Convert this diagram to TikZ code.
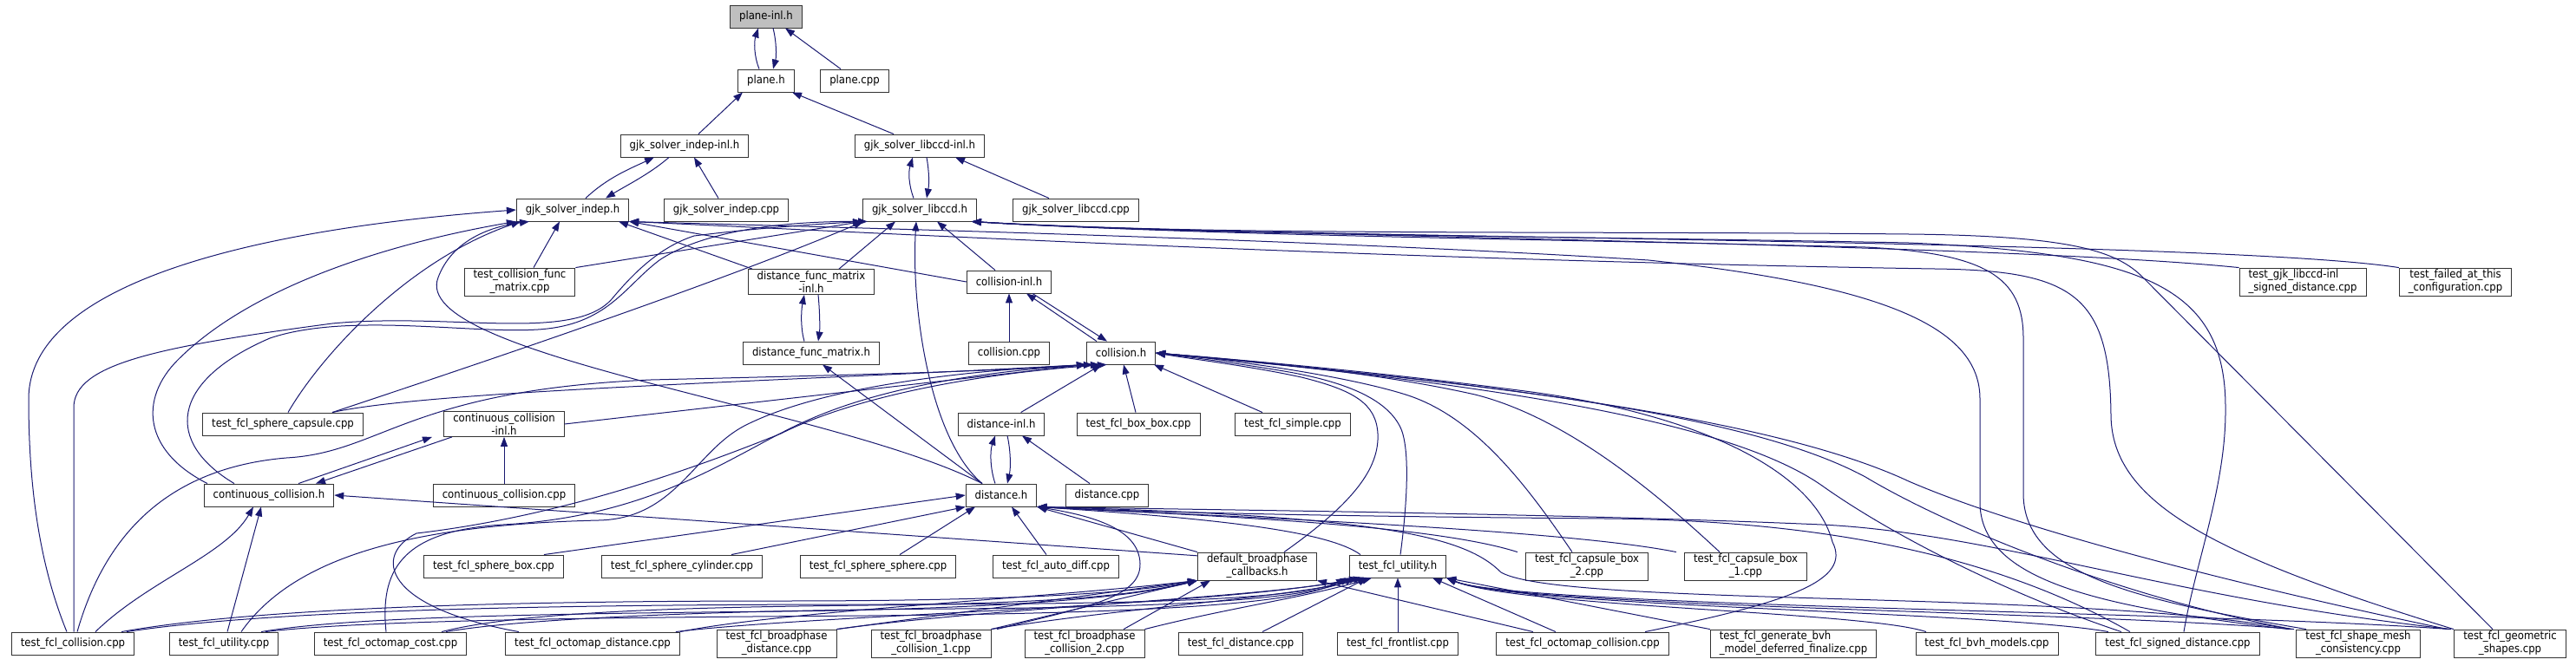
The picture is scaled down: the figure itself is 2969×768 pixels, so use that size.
\documentclass[tikz,border=0pt]{standalone}
\usepackage{fontspec}
\newfontfamily\dvcond{DejaVu Sans Condensed}
\usetikzlibrary{arrows.meta}
\definecolor{edgeblue}{RGB}{25,25,112}
\tikzset{
  file/.style={draw=black!80, fill=white, line width=0.9pt, inner xsep=10.5pt, inner ysep=2pt,
    minimum height=26pt, align=center, font=\dvcond\fontsize{13}{15}\selectfont},
  current/.style={file, fill=black!25},
  incl/.style={draw=edgeblue, line width=1pt, -{Triangle[length=11pt,width=8pt]}},
}
\begin{document}
\begin{tikzpicture}[x=1pt,y=1pt,yscale=-1]
  \useasboundingbox (0,0) rectangle (2969,768);

  %Nodes: headers and sources, row by row
  \node[current] (pinl) at (883,19) {plane-inl.h};
  \node[file] (planeh) at (883,93) {plane.h};
  \node[file] (planecpp) at (985,93) {plane.cpp};
  \node[file] (gjkiinl) at (789,168) {gjk\_solver\_indep-inl.h};
  \node[file] (gjkcinl) at (1060,168) {gjk\_solver\_libccd-inl.h};
  \node[file] (gjki) at (660,242) {gjk\_solver\_indep.h};
  \node[file] (gjkicpp) at (837,242) {gjk\_solver\_indep.cpp};
  \node[file] (gjkc) at (1060,242) {gjk\_solver\_libccd.h};
  \node[file] (gjkccpp) at (1240,242) {gjk\_solver\_libccd.cpp};
  \node[file] (tcfm) at (599,325) {test\_collision\_func\\\_matrix.cpp};
  \node[file] (dfminl) at (935,325) {distance\_func\_matrix\\-inl.h};
  \node[file] (collinl) at (1163,325) {collision-inl.h};
  \node[file, align=left] (tgjksd) at (2654,325) {test\_gjk\_libccd-inl\\\_signed\_distance.cpp};
  \node[file] (tfailed) at (2830,325) {test\_failed\_at\_this\\\_configuration.cpp};
  \node[file] (dfm) at (935,407) {distance\_func\_matrix.h};
  \node[file] (collcpp) at (1163,407) {collision.cpp};
  \node[file] (collh) at (1292,407) {collision.h};
  \node[file] (spcap) at (326,489) {test\_fcl\_sphere\_capsule.cpp};
  \node[file] (ccinl) at (581,489) {continuous\_collision\\-inl.h};
  \node[file] (distinl) at (1154,489) {distance-inl.h};
  \node[file] (boxbox) at (1312,489) {test\_fcl\_box\_box.cpp};
  \node[file] (simple) at (1490,489) {test\_fcl\_simple.cpp};
  \node[file] (cch) at (310,571) {continuous\_collision.h};
  \node[file] (cccpp) at (581,571) {continuous\_collision.cpp};
  \node[file] (disth) at (1154,571) {distance.h};
  \node[file] (distcpp) at (1276,571) {distance.cpp};
  \node[file] (spbox) at (569,653) {test\_fcl\_sphere\_box.cpp};
  \node[file] (spcyl) at (786,653) {test\_fcl\_sphere\_cylinder.cpp};
  \node[file] (spsp) at (1012,653) {test\_fcl\_sphere\_sphere.cpp};
  \node[file] (autodiff) at (1217,653) {test\_fcl\_auto\_diff.cpp};
  \node[file] (dbcb) at (1449,653) {default\_broadphase\\\_callbacks.h};
  \node[file] (utilh) at (1611,653) {test\_fcl\_utility.h};
  \node[file] (capbox2) at (1829,653) {test\_fcl\_capsule\_box\\\_2.cpp};
  \node[file] (capbox1) at (2012,653) {test\_fcl\_capsule\_box\\\_1.cpp};
  \node[file] (tcoll) at (84,742) {test\_fcl\_collision.cpp};
  \node[file] (tutil) at (258,742) {test\_fcl\_utility.cpp};
  \node[file] (ocost) at (450,742) {test\_fcl\_octomap\_cost.cpp};
  \node[file] (odist) at (683,742) {test\_fcl\_octomap\_distance.cpp};
  \node[file] (bpdist) at (895,742) {test\_fcl\_broadphase\\\_distance.cpp};
  \node[file] (bpc1) at (1073,742) {test\_fcl\_broadphase\\\_collision\_1.cpp};
  \node[file] (bpc2) at (1250,742) {test\_fcl\_broadphase\\\_collision\_2.cpp};
  \node[file] (tdist) at (1430,742) {test\_fcl\_distance.cpp};
  \node[file] (front) at (1611,742) {test\_fcl\_frontlist.cpp};
  \node[file] (ocoll) at (1824,742) {test\_fcl\_octomap\_collision.cpp};
  \node[file, align=left] (genbvh) at (2067,742) {test\_fcl\_generate\_bvh\\\_model\_deferred\_finalize.cpp};
  \node[file] (bvhm) at (2290,742) {test\_fcl\_bvh\_models.cpp};
  \node[file] (sdist) at (2510,742) {test\_fcl\_signed\_distance.cpp};
  \node[file] (smesh) at (2718,742) {test\_fcl\_shape\_mesh\\\_consistency.cpp};
  \node[file] (geom) at (2893,742) {test\_fcl\_geometric\\\_shapes.cpp};

  %Edges: plane and the gjk solvers
  \draw[incl] ([xshift=-8]planeh.north) .. controls (869,65) and (869,48) .. ([xshift=-9]pinl.south);
  \draw[incl] ([xshift=8]pinl.south) .. controls (895,48) and (895,65) .. ([xshift=8]planeh.north);
  \draw[incl] ([xshift=-16]planecpp.north) -- ([xshift=22]pinl.south);
  \draw[incl] ([xshift=16]gjkiinl.north) -- ([xshift=-27]planeh.south);
  \draw[incl] ([xshift=-30]gjkcinl.north) -- ([xshift=30]planeh.south);
  \draw[incl] ([xshift=15]gjki.north) .. controls (700,205) and (725,195) .. ([xshift=-35]gjkiinl.south);
  \draw[incl] ([xshift=-18]gjkiinl.south) .. controls (750,200) and (720,215) .. ([xshift=38]gjki.north);
  \draw[incl] ([xshift=-9]gjkicpp.north) -- ([xshift=11]gjkiinl.south);
  \draw[incl] ([xshift=-7]gjkc.north) .. controls (1047,212) and (1047,198) .. ([xshift=-8]gjkcinl.south);
  \draw[incl] ([xshift=8]gjkcinl.south) .. controls (1071,198) and (1071,212) .. ([xshift=8]gjkc.north);
  \draw[incl] ([xshift=-31]gjkccpp.north) -- ([xshift=41]gjkcinl.south);

  %Edges into gjk_solver_indep.h and gjk_solver_libccd.h
  \draw[incl] ([xshift=16]tcfm.north) -- ([xshift=-15]gjki.south);
  \draw[incl] (tcfm.north east) -- (gjkc.south west);
  \draw[incl] ([xshift=-68]dfminl.north) -- ([xshift=53]gjki.south);
  \draw[incl] ([xshift=32]dfminl.north) -- ([xshift=-28]gjkc.south);
  \draw[incl] (collinl.west) -- (gjki.south east);
  \draw[incl] ([xshift=-16]collinl.north) -- ([xshift=20]gjkc.south);
  \draw[incl] ([xshift=-7]tcoll.north) .. controls (45,650) and (33,560) .. (33,460) .. controls (33,330) and (280,265) .. (gjki.west);
  \draw[incl] ([xshift=1]tcoll.north) -- (85,470) .. controls (85,420) and (180,400) .. (383,373) .. controls (520,360) and (660,395) .. (705,345) .. controls (730,315) and (760,285) .. (800,272) .. controls (880,262) and (950,258) .. (gjkc.south west);
  \draw[incl] ([xshift=-71]cch.north) .. controls (165,520) and (160,460) .. (205,415) .. controls (300,320) and (480,275) .. (gjki.south west);
  \draw[incl] ([xshift=-40]cch.north) .. controls (190,510) and (195,440) .. (311,390) .. controls (400,360) and (540,385) .. (620,380) .. controls (700,375) and (720,330) .. (760,300) .. controls (820,260) and (930,255) .. ([xshift=-60]gjkc.south);
  \draw[incl] ([xshift=6]spcap.north) .. controls (370,410) and (470,300) .. ([xshift=-60]gjki.south);
  \draw[incl] ([xshift=57]spcap.north) .. controls (520,430) and (820,330) .. ([xshift=-65]gjkc.south);
  \draw[incl] ([xshift=-22]disth.north) .. controls (960,470) and (470,410) .. (505,320) .. controls (520,280) and (560,262) .. ([xshift=-50]gjki.south);
  \draw[incl] ([xshift=-22]disth.north) .. controls (1070,505) and (1050,350) .. ([xshift=-4]gjkc.south);
  \draw[incl] ([xshift=-22]disth.north) -- ([xshift=13]dfm.south);
  \draw[incl] (tgjksd.north west) .. controls (2300,280) and (1400,272) .. ([xshift=-6]gjkc.south east);
  \draw[incl] (tfailed.north west) .. controls (2550,275) and (1400,275) .. ([xshift=-6]gjkc.south east);
  \draw[incl] ([xshift=7]sdist.north) .. controls (2530,650) and (2566,560) .. (2565,470) .. controls (2565,330) and (2470,292) .. (2200,280) .. controls (1800,272) and (1400,272) .. ([xshift=-6]gjkc.south east);
  \draw[incl] ([xshift=-20]geom.north) -- (2470,320) .. controls (2440,290) and (2390,272) .. (2200,270) .. controls (1800,266) and (1400,272) .. ([xshift=-6]gjkc.south east);
  \draw[incl] ([xshift=-65]geom.north) .. controls (2550,640) and (2435,580) .. (2433,480) .. controls (2432,340) and (2390,312) .. (2230,310) .. controls (1600,300) and (1000,268) .. (gjki.south east);
  \draw[incl] ([xshift=-80]smesh.north) .. controls (2420,700) and (2283,670) .. (2282,580) -- (2282,460) .. controls (2282,380) and (2180,330) .. (1900,300) .. controls (1500,275) and (950,262) .. (gjki.south east);
  \draw[incl] ([xshift=-60]smesh.north) .. controls (2450,690) and (2333,660) .. (2332,570) -- (2332,390) .. controls (2332,320) and (2290,292) .. (2150,285) .. controls (1800,276) and (1400,272) .. ([xshift=-6]gjkc.south east);

  %Edges: distance_func_matrix and collision-inl.h
  \draw[incl] ([xshift=-8]dfm.north) .. controls (923,380) and (923,360) .. ([xshift=-8]dfminl.south);
  \draw[incl] ([xshift=8]dfminl.south) .. controls (945,360) and (945,380) .. ([xshift=8]dfm.north);
  \draw[incl] ([xshift=-28]collh.north) -- ([xshift=20]collinl.south);
  \draw[incl] ([xshift=27]collinl.south) -- ([xshift=-16]collh.north);
  \draw[incl] (collcpp) -- (collinl);

  %Edges into collision.h
  \draw[incl] (ccinl.east) -- (collh.south west);
  \draw[incl] ([xshift=57]spcap.north) .. controls (500,450) and (900,440) .. (collh.south west);
  \draw[incl] ([xshift=5]tcoll.north) .. controls (120,620) and (190,540) .. (330,528) .. controls (440,522) and (470,450) .. (750,438) .. controls (1000,432) and (1150,428) .. (collh.south west);
  \draw[incl] ([xshift=20]tutil.north) .. controls (340,640) and (480,605) .. (690,600) .. controls (780,598) and (800,520) .. (860,490) .. controls (960,440) and (1150,425) .. ([xshift=8]collh.south west);
  \draw[incl] ([xshift=-5]ocost.north) .. controls (438,660) and (460,612) .. (580,605) .. controls (760,595) and (850,520) .. (930,485) .. controls (1030,440) and (1170,425) .. ([xshift=16]collh.south west);
  \draw[incl] ([xshift=-85]odist.north) .. controls (440,700) and (430,640) .. (480,615) .. controls (650,595) and (800,540) .. (900,500) .. controls (1000,450) and (1160,428) .. ([xshift=24]collh.south west);
  \draw[incl] (distinl) -- (collh);
  \draw[incl] ([xshift=-3]boxbox.north) -- ([xshift=3]collh.south);
  \draw[incl] ([xshift=-35]simple.north) -- ([xshift=38]collh.south);
  \draw[incl] ([xshift=31]dbcb.north) .. controls (1560,580) and (1590,540) .. (1588,500) .. controls (1586,465) and (1560,450) .. (1500,435) .. controls (1440,422) and (1380,415) .. (collh.east);
  \draw[incl] ([xshift=3]utilh.north) .. controls (1622,580) and (1625,520) .. (1615,495) .. controls (1600,460) and (1550,440) .. (1480,428) .. controls (1420,418) and (1380,413) .. (collh.east);
  \draw[incl] ([xshift=-17]capbox2.north) .. controls (1760,560) and (1700,480) .. (1620,455) .. controls (1550,433) and (1420,415) .. (collh.east);
  \draw[incl] ([xshift=-30]capbox1.north) .. controls (1900,560) and (1800,480) .. (1700,455) .. controls (1580,428) and (1430,415) .. (collh.east);
  \draw[incl] ([xshift=72]ocoll.north) .. controls (2060,695) and (2135,670) .. (2112,625) .. controls (2090,540) and (1950,475) .. (1750,450) .. controls (1580,428) and (1430,415) .. (collh.east);
  \draw[incl] ([xshift=-65]sdist.north) .. controls (2300,680) and (2170,610) .. (2100,560) .. controls (2000,490) and (1750,445) .. (collh.east);
  \draw[incl] ([xshift=-76]smesh.north) .. controls (2450,690) and (2250,610) .. (2150,550) .. controls (2020,480) and (1750,445) .. (collh.east);
  \draw[incl] ([xshift=-72]geom.north) .. controls (2650,690) and (2350,620) .. (2200,555) .. controls (2050,485) and (1750,445) .. (collh.east);

  %Edges: continuous_collision
  \draw[incl] ([xshift=34]cch.north) -- ([xshift=-83]ccinl.south);
  \draw[incl] ([xshift=-60]ccinl.south) -- ([xshift=54]cch.north);
  \draw[incl] (cccpp) -- (ccinl);
  \draw[incl] ([xshift=26]tcoll.north) .. controls (170,670) and (260,640) .. ([xshift=-18]cch.south);
  \draw[incl] ([xshift=4]tutil.north) -- ([xshift=-9]cch.south);
  \draw[incl] (dbcb.170) -- (cch.east);

  %Edges into distance.h
  \draw[incl] ([xshift=-7]disth.north) .. controls (1141,540) and (1141,520) .. ([xshift=-7]distinl.south);
  \draw[incl] ([xshift=7]distinl.south) .. controls (1165,520) and (1165,540) .. ([xshift=7]disth.north);
  \draw[incl] ([xshift=-20]distcpp.north) -- ([xshift=24]distinl.south);
  \draw[incl] ([xshift=58]spbox.north) -- (disth.west);
  \draw[incl] ([xshift=57]spcyl.north) -- (disth.south west);
  \draw[incl] ([xshift=25]spsp.north) -- ([xshift=-30]disth.south);
  \draw[incl] ([xshift=-11]autodiff.north) -- ([xshift=12]disth.south);
  \draw[incl] (dbcb.north west) -- (disth.south east);
  \draw[incl] ([xshift=-43]utilh.north) .. controls (1530,612) and (1400,598) .. (disth.south east);
  \draw[incl] ([xshift=-80]capbox2.north) .. controls (1650,605) and (1400,595) .. (disth.south east);
  \draw[incl] ([xshift=-80]capbox1.north) .. controls (1800,610) and (1400,595) .. (disth.south east);
  \draw[incl] ([xshift=76]bpc1.north) .. controls (1250,700) and (1315,690) .. (1314,650) .. controls (1313,610) and (1260,595) .. (disth.south east);
  \draw[incl] ([xshift=-55]sdist.north) .. controls (2300,640) and (2100,600) .. (1850,598) .. controls (1600,596) and (1350,592) .. (disth.south east);
  \draw[incl] ([xshift=-78]smesh.north) .. controls (2400,680) and (1800,700) .. (1730,660) .. controls (1690,620) and (1600,595) .. (disth.south east);
  \draw[incl] ([xshift=-68]geom.north) .. controls (2500,690) and (2300,615) .. (2100,605) .. controls (1800,592) and (1400,588) .. (disth.south east);

  %Edges into default_broadphase_callbacks.h
  \draw[incl] ([xshift=56]tcoll.north) .. controls (300,700) and (600,693) .. (900,693) .. controls (1150,693) and (1300,685) .. (dbcb.south west);
  \draw[incl] ([xshift=43]tutil.north) .. controls (400,712) and (600,708) .. (900,705) .. controls (1150,702) and (1300,690) .. (dbcb.south west);
  \draw[incl] ([xshift=59]ocost.north) .. controls (600,705) and (800,700) .. (1000,698) .. controls (1200,696) and (1300,688) .. (dbcb.south west);
  \draw[incl] (odist.north east) .. controls (900,705) and (1200,690) .. (dbcb.south west);
  \draw[incl] (bpdist.north east) -- (dbcb.south west);
  \draw[incl] (bpc1.north east) -- (dbcb.south west);
  \draw[incl] ([xshift=45]bpc2.north) -- ([xshift=-54]dbcb.south);
  \draw[incl] ([xshift=-57]ocoll.north) -- (dbcb.south east);

  %Edges into test_fcl_utility.h
  \draw[incl] ([xshift=62]tcoll.north) .. controls (300,705) and (600,697) .. (1000,697) .. controls (1350,697) and (1500,690) .. ([xshift=-55]utilh.south);
  \draw[incl] ([xshift=48]tutil.north) .. controls (420,715) and (700,712) .. (1000,710) .. controls (1350,707) and (1500,695) .. ([xshift=-60]utilh.south);
  \draw[incl] ([xshift=64]ocost.north) .. controls (620,710) and (900,703) .. (1100,702) .. controls (1350,700) and (1500,692) .. ([xshift=-50]utilh.south);
  \draw[incl] ([xshift=-5]odist.north east) .. controls (950,708) and (1400,700) .. ([xshift=-45]utilh.south);
  \draw[incl] (bpdist.north east) .. controls (1150,700) and (1450,690) .. ([xshift=-40]utilh.south);
  \draw[incl] (bpc1.north east) .. controls (1300,700) and (1480,690) .. ([xshift=-35]utilh.south);
  \draw[incl] (bpc2.north east) .. controls (1420,700) and (1500,690) .. ([xshift=-30]utilh.south);
  \draw[incl] ([xshift=25]tdist.north) -- ([xshift=-35]utilh.south);
  \draw[incl] (front) -- (utilh);
  \draw[incl] ([xshift=-31]ocoll.north) -- ([xshift=40]utilh.south);
  \draw[incl] (genbvh.north west) -- (utilh.south east);
  \draw[incl] ([xshift=-70]bvhm.north) .. controls (2150,705) and (1750,700) .. (utilh.south east);
  \draw[incl] ([xshift=-80]sdist.north) .. controls (2300,705) and (1750,700) .. (utilh.south east);
  \draw[incl] ([xshift=-74]smesh.north) .. controls (2400,705) and (1750,700) .. (utilh.south east);
  \draw[incl] ([xshift=-70]geom.north) .. controls (2550,705) and (1750,700) .. (utilh.south east);

\end{tikzpicture}
\end{document}
